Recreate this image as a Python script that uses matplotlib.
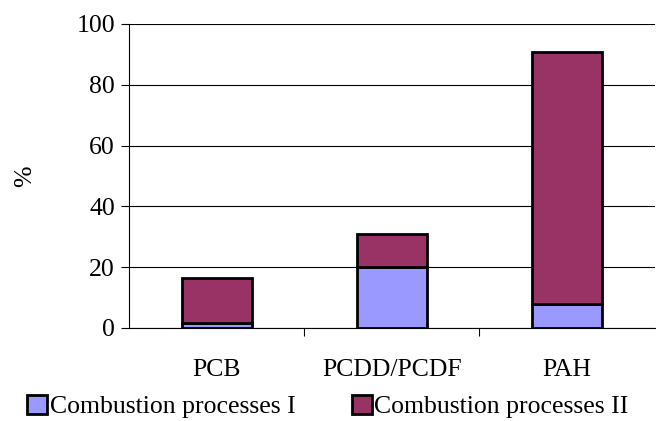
import numpy as np
import matplotlib.pyplot as plt

categories = ["PCB", "PCDD/PCDF", "PAH"]
proc1 = [1.5, 20.0, 7.9]
proc2 = [14.9, 10.9, 82.9]
labels = ["Combustion processes I", "Combustion processes II"]

plt.rcParams['font.family'] = ['Liberation Serif', 'DejaVu Serif']

fig = plt.figure(figsize=(6.56, 4.21), dpi=100)
ax = fig.add_axes([0.1966, 0.221, 0.8014, 0.722])

x = np.arange(len(categories))
b1 = ax.bar(x, proc1, width=0.4, color='#9999FF', edgecolor='black', linewidth=2, zorder=3)
b2 = ax.bar(x, proc2, bottom=proc1, width=0.4, color='#993366', edgecolor='black', linewidth=2, zorder=3)

ax.set_xlim(-0.5, 2.5)
ax.set_ylim(0, 100)
ax.set_yticks(range(0, 101, 20))
ax.yaxis.grid(True, color='black', linewidth=0.8, zorder=0)
ax.set_axisbelow(True)
for s in ['top', 'right']:
    ax.spines[s].set_visible(False)
ax.spines['left'].set_linewidth(0.8)
ax.spines['bottom'].set_linewidth(0.8)

# category ticks sit between the bars, labels under the bars
ax.set_xticks([0.5, 1.5])
ax.set_xticklabels([])
ax.set_xticks(x, minor=True)
ax.set_xticklabels(categories, minor=True, fontsize=18.5)
ax.tick_params(axis='x', which='minor', length=0, pad=22)
ax.tick_params(axis='x', which='major', length=6, width=0.8)
ax.tick_params(axis='y', labelsize=18.5, length=6, width=0.8, pad=4)
ax.set_ylabel('%', fontsize=18.5, labelpad=29)

fig.legend([b1, b2], labels, loc='lower left', bbox_to_anchor=(0.041, 0.006), ncol=2,
           frameon=False, fontsize=18.5, handlelength=0.8, handleheight=0.8,
           handletextpad=0.08, columnspacing=2.2, borderaxespad=0, borderpad=0)

fig.savefig('out.png', dpi=100)
